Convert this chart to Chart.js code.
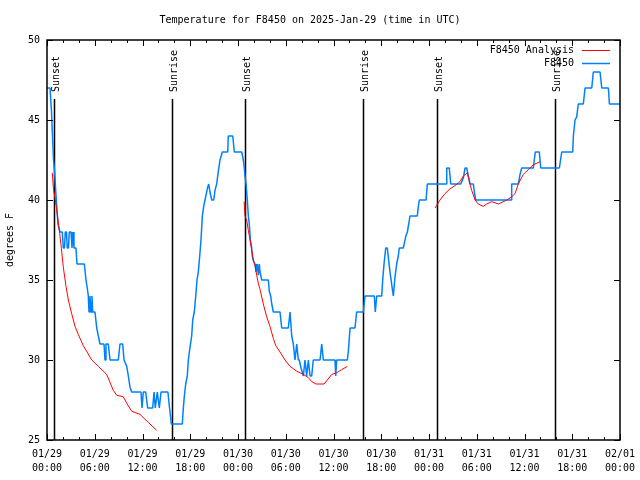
<!DOCTYPE html>
<html>
<head>
<meta charset="utf-8">
<script src="https://cdn.jsdelivr.net/npm/chart.js@4.4.1/dist/chart.umd.min.js"></script>
<style>
  html, body { margin: 0; padding: 0; background: #fff; }
</style>
</head>
<body>
<canvas id="myChart" width="640" height="480"></canvas>
<script>
// hours since 2025-01-29 00:00 UTC
const obsHours = [0.00, 0.38, 0.57, 0.69, 0.82, 0.97, 1.09, 1.22, 1.38, 1.63, 1.92, 2.05, 2.20, 2.30, 2.45, 2.55, 2.70, 2.80, 3.02, 3.14,
  3.27, 3.39, 3.64, 3.77, 4.69, 4.90, 5.06, 5.19, 5.28, 5.40, 5.53, 5.65, 5.74, 6.03, 6.25, 6.45, 6.66, 7.16, 7.29, 7.41,
  7.70, 7.92, 8.96, 9.17, 9.51, 9.68, 10.02, 10.22, 10.43, 10.64, 11.81, 11.94, 12.10, 12.40, 12.65, 13.28, 13.45, 13.61, 13.86, 14.11,
  14.33, 14.61, 15.19, 15.40, 15.62, 17.00, 17.13, 17.25, 17.43, 17.63, 17.76, 17.97, 18.18, 18.31, 18.51, 18.69, 18.85, 19.01, 19.19, 19.35,
  19.52, 19.69, 19.85, 20.02, 20.19, 20.32, 20.48, 20.70, 20.95, 21.11, 21.32, 21.53, 21.74, 22.03, 22.71, 22.78, 23.34, 23.54, 24.47, 24.67,
  24.79, 24.88, 25.01, 25.17, 25.30, 25.42, 25.55, 25.67, 25.80, 25.93, 26.14, 26.26, 26.43, 26.55, 26.68, 26.77, 26.98, 27.81, 27.93, 28.11,
  28.24, 28.44, 29.28, 29.49, 30.32, 30.54, 30.75, 30.95, 31.16, 31.38, 31.58, 31.70, 31.92, 32.21, 32.42, 32.63, 32.84, 33.05, 33.26, 33.46,
  34.31, 34.52, 34.72, 36.19, 36.28, 36.40, 37.74, 37.86, 38.08, 38.70, 38.91, 39.75, 39.96, 41.13, 41.25, 41.43, 42.06, 42.18, 42.35, 42.56,
  42.76, 42.94, 43.10, 43.32, 43.52, 43.73, 43.94, 44.14, 44.27, 44.77, 45.07, 45.28, 45.45, 45.61, 46.53, 46.66, 46.79, 47.63, 47.79, 50.14,
  50.23, 50.55, 50.73, 51.99, 52.32, 52.53, 52.74, 52.94, 53.15, 53.57, 53.70, 53.87, 58.31, 58.39, 59.22, 59.44, 59.65, 61.11, 61.23, 61.36,
  61.86, 62.04, 64.38, 64.56, 64.68, 66.06, 66.14, 66.35, 66.56, 66.76, 67.39, 67.61, 68.45, 68.65, 69.49, 69.71, 70.54, 70.67, 72.00];
const obsTemps = [47, 47, 45.5, 44, 42.5, 41.7, 40.6, 39.6, 38.5, 38, 38, 37, 37, 38, 38, 37, 37, 38, 38, 37,
  38, 37, 37, 36, 36, 35, 34.5, 34, 33, 34, 33, 34, 33, 33, 32, 31.5, 31, 31, 30, 31,
  31, 30, 30, 31, 31, 30, 29.6, 29, 28.3, 28, 28, 27, 28, 28, 27, 27, 28, 27, 28, 27,
  28, 28, 28, 27, 26, 26, 27, 27.7, 28.5, 29, 30, 30.8, 31.5, 32.5, 33, 34, 35, 35.5, 36.5, 37.5,
  39, 39.6, 40, 40.4, 40.8, 41, 40.5, 40, 40, 40.6, 41, 41.8, 42.5, 43, 43, 44, 44, 43, 43, 42.5,
  42, 41.5, 41, 40, 39, 38.5, 37.5, 37.2, 36.5, 36.2, 36, 35.5, 36, 35.3, 36, 35.5, 35, 35, 34.3, 34,
  33.5, 33, 33, 32, 32, 33, 31.5, 31, 30, 31, 30, 30, 29.5, 29, 30, 29, 30, 29, 29, 30,
  30, 31, 30, 30, 29, 30, 30, 30.5, 32, 32, 33, 33, 34, 34, 33, 34, 34, 35, 36, 37,
  37, 36.2, 35.5, 34.7, 34, 35.2, 36, 36.5, 37, 37, 37.7, 38, 38.5, 39, 39, 39.6, 40, 40, 41, 41,
  42, 42, 41, 41, 41.4, 42, 42, 41.5, 41, 41, 40.5, 40, 40, 41, 41, 41.6, 42, 42, 42.5, 43,
  43, 42, 42, 42.6, 43, 43, 44, 45, 45.2, 46, 46, 47, 47, 48, 48, 47, 47, 46, 46];

// analysis (null = gap)
const anaHours = [0.67, 0.79, 0.97, 1.17, 1.38, 1.60, 1.76, 2.05, 2.39, 2.68, 3.10, 3.52, 3.93, 4.56, 5.62, 6.45, 7.50, 7.92, 8.33, 8.76,
  9.59, 10.02, 10.64, 11.69, 12.73, 13.78, 14.0,
  24.76, 24.88, 25.09, 25.30, 25.51, 25.72, 25.92, 26.14, 26.35, 26.55, 26.77, 27.18, 27.61, 28.02, 28.44, 28.74, 29.28, 29.91, 30.54, 31.38,
  32.21, 32.84, 33.26, 33.80, 34.81, 35.22, 35.78, 36.40, 37.03, 37.74, 38.0,
  48.76, 49.38, 50.01, 50.64, 51.27, 51.90, 52.32, 52.82, 53.15, 53.37, 53.78, 54.20, 54.83, 55.25, 55.88, 56.71, 57.77, 58.39, 58.81, 59.22,
  59.85, 60.48, 61.11, 61.95];
const anaTemps = [41.7, 40.8, 40.2, 39.6, 38.75, 37.9, 37.2, 35.8, 34.6, 33.75, 32.9, 32.1, 31.6, 30.9, 30.0, 29.6, 29.1, 28.6, 28.1, 27.8,
  27.7, 27.3, 26.8, 26.6, 26.1, 25.6, null,
  39.9, 39.0, 38.75, 38.1, 37.5, 36.9, 36.25, 35.9, 35.3, 34.8, 34.4, 33.5, 32.7, 32.1, 31.35, 30.9, 30.5, 30.0, 29.6, 29.3,
  29.1, 28.9, 28.65, 28.5, 28.5, 28.75, 29.1, 29.2, 29.4, 29.6, null,
  39.5, 40.0, 40.4, 40.7, 40.9, 41.15, 41.5, 41.7, 41.0, 40.6, 40.0, 39.75, 39.6, 39.75, 39.9, 39.75, 40.0, 40.2, 40.4, 41.0,
  41.6, 41.9, 42.2, 42.4];

const sunHours = [0.9, 15.72, 24.9, 39.72, 49.0, 63.82];
const sunLabels = ['Sunset', 'Sunrise', 'Sunset', 'Sunrise', 'Sunset', 'Sunrise'];

const tickDates = ['01/29', '01/29', '01/29', '01/29', '01/30', '01/30', '01/30', '01/30', '01/31', '01/31', '01/31', '01/31', '02/01'];
const tickTimes = ['00:00', '06:00', '12:00', '18:00', '00:00', '06:00', '12:00', '18:00', '00:00', '06:00', '12:00', '18:00', '00:00'];

const FONT = "'DejaVu Sans Mono', 'Liberation Mono', monospace";

const obsPoints = obsHours.map((h, i) => ({ x: h, y: obsTemps[i] }));
const anaPoints = anaHours.map((h, i) => ({ x: h, y: anaTemps[i] }));

const overlay = {
  id: 'overlay',
  beforeDatasetsDraw(chart) {
    const ctx = chart.ctx;
    const xs = chart.scales.x;
    const area = chart.chartArea;
    ctx.save();
    ctx.strokeStyle = '#000';
    ctx.lineWidth = 1.5;
    ctx.fillStyle = '#000';
    ctx.font = '10px ' + FONT;
    sunHours.forEach((h, i) => {
      const px = Math.round(xs.getPixelForValue(h)) + 0.5;
      ctx.beginPath();
      ctx.moveTo(px, area.top + 59);
      ctx.lineTo(px, area.bottom);
      ctx.stroke();
      ctx.save();
      ctx.translate(px + 2, area.top + 52);
      ctx.rotate(-Math.PI / 2);
      ctx.textAlign = 'left';
      ctx.textBaseline = 'middle';
      ctx.fillText(sunLabels[i], 0, 0);
      ctx.restore();
    });
    ctx.restore();
  },
  afterDraw(chart) {
    const ctx = chart.ctx;
    const xs = chart.scales.x;
    const ys = chart.scales.y;
    const area = chart.chartArea;
    ctx.save();
    ctx.strokeStyle = '#000';
    ctx.lineWidth = 1;
    ctx.beginPath();
    for (let h = 0; h <= 72; h += 2) {
      const px = Math.round(xs.getPixelForValue(h)) + 0.5;
      const len = h % 6 === 0 ? 6 : 3;
      ctx.moveTo(px, area.bottom);
      ctx.lineTo(px, area.bottom - len);
      ctx.moveTo(px, area.top);
      ctx.lineTo(px, area.top + len);
    }
    for (let t = 25; t <= 50; t += 5) {
      const py = Math.round(ys.getPixelForValue(t)) + 0.5;
      ctx.moveTo(area.left, py);
      ctx.lineTo(area.left + 6, py);
      ctx.moveTo(area.right, py);
      ctx.lineTo(area.right - 6, py);
    }
    ctx.stroke();
    ctx.lineWidth = 1.5;
    ctx.strokeRect(area.left, area.top, area.right - area.left, area.bottom - area.top);

    // legend
    ctx.font = '10px ' + FONT;
    ctx.fillStyle = '#000';
    ctx.textAlign = 'right';
    ctx.textBaseline = 'middle';
    const items = [['F8450 Analysis', '#ff0000', 1], ['F8450', '#0080ff', 1.5]];
    items.forEach((it, i) => {
      const y = area.top + 10 + i * 13;
      ctx.fillText(it[0], area.right - 46, y);
      ctx.strokeStyle = it[1];
      ctx.lineWidth = it[2];
      ctx.beginPath();
      ctx.moveTo(area.right - 38, y + 0.5);
      ctx.lineTo(area.right - 10, y + 0.5);
      ctx.stroke();
    });
    ctx.restore();
  }
};

const config = {
  type: 'line',
  data: {
    datasets: [
      {
        label: 'F8450 Analysis',
        data: anaPoints,
        borderColor: '#ff0000',
        borderWidth: 1,
        pointRadius: 0,
        spanGaps: false,
        tension: 0
      },
      {
        label: 'F8450',
        data: obsPoints,
        borderColor: '#0080ff',
        borderWidth: 1.5,
        borderJoinStyle: 'bevel',
        pointRadius: 0,
        tension: 0
      }
    ]
  },
  options: {
    responsive: false,
    animation: false,
    events: [],
    layout: { padding: { right: 20, top: 0, bottom: 0, left: 0 } },
    plugins: {
      legend: { display: false },
      tooltip: { enabled: false },
      title: {
        display: true,
        text: 'Temperature for F8450 on 2025-Jan-29 (time in UTC)',
        color: '#000',
        font: { family: FONT, size: 10, weight: 'normal', lineHeight: 1.2 },
        padding: { top: 14, bottom: 14 }
      }
    },
    scales: {
      x: {
        type: 'linear',
        min: 0,
        max: 72,
        grid: { display: false, drawTicks: false },
        border: { display: false },
        ticks: {
          stepSize: 6,
          autoSkip: false,
          maxRotation: 0,
          padding: 7,
          color: '#000',
          font: { family: FONT, size: 10, lineHeight: 1.4 },
          callback: (v) => {
            const i = Math.round(v / 6);
            return [tickDates[i], tickTimes[i]];
          }
        },
        afterFit: (scale) => {
          scale.height = 40;
          scale.paddingLeft = 0;
          scale.paddingRight = 0;
        }
      },
      y: {
        min: 25,
        max: 50,
        grid: { display: false, drawTicks: false },
        border: { display: false },
        ticks: {
          stepSize: 5,
          padding: 7,
          color: '#000',
          font: { family: FONT, size: 10 }
        },
        title: {
          display: true,
          text: 'degrees F',
          color: '#000',
          font: { family: FONT, size: 10 },
          padding: { top: 4, bottom: 0 }
        },
        afterFit: (scale) => { scale.width = 47; }
      }
    }
  },
  plugins: [overlay]
};

new Chart(document.getElementById('myChart'), config);
</script>
</body>
</html>
